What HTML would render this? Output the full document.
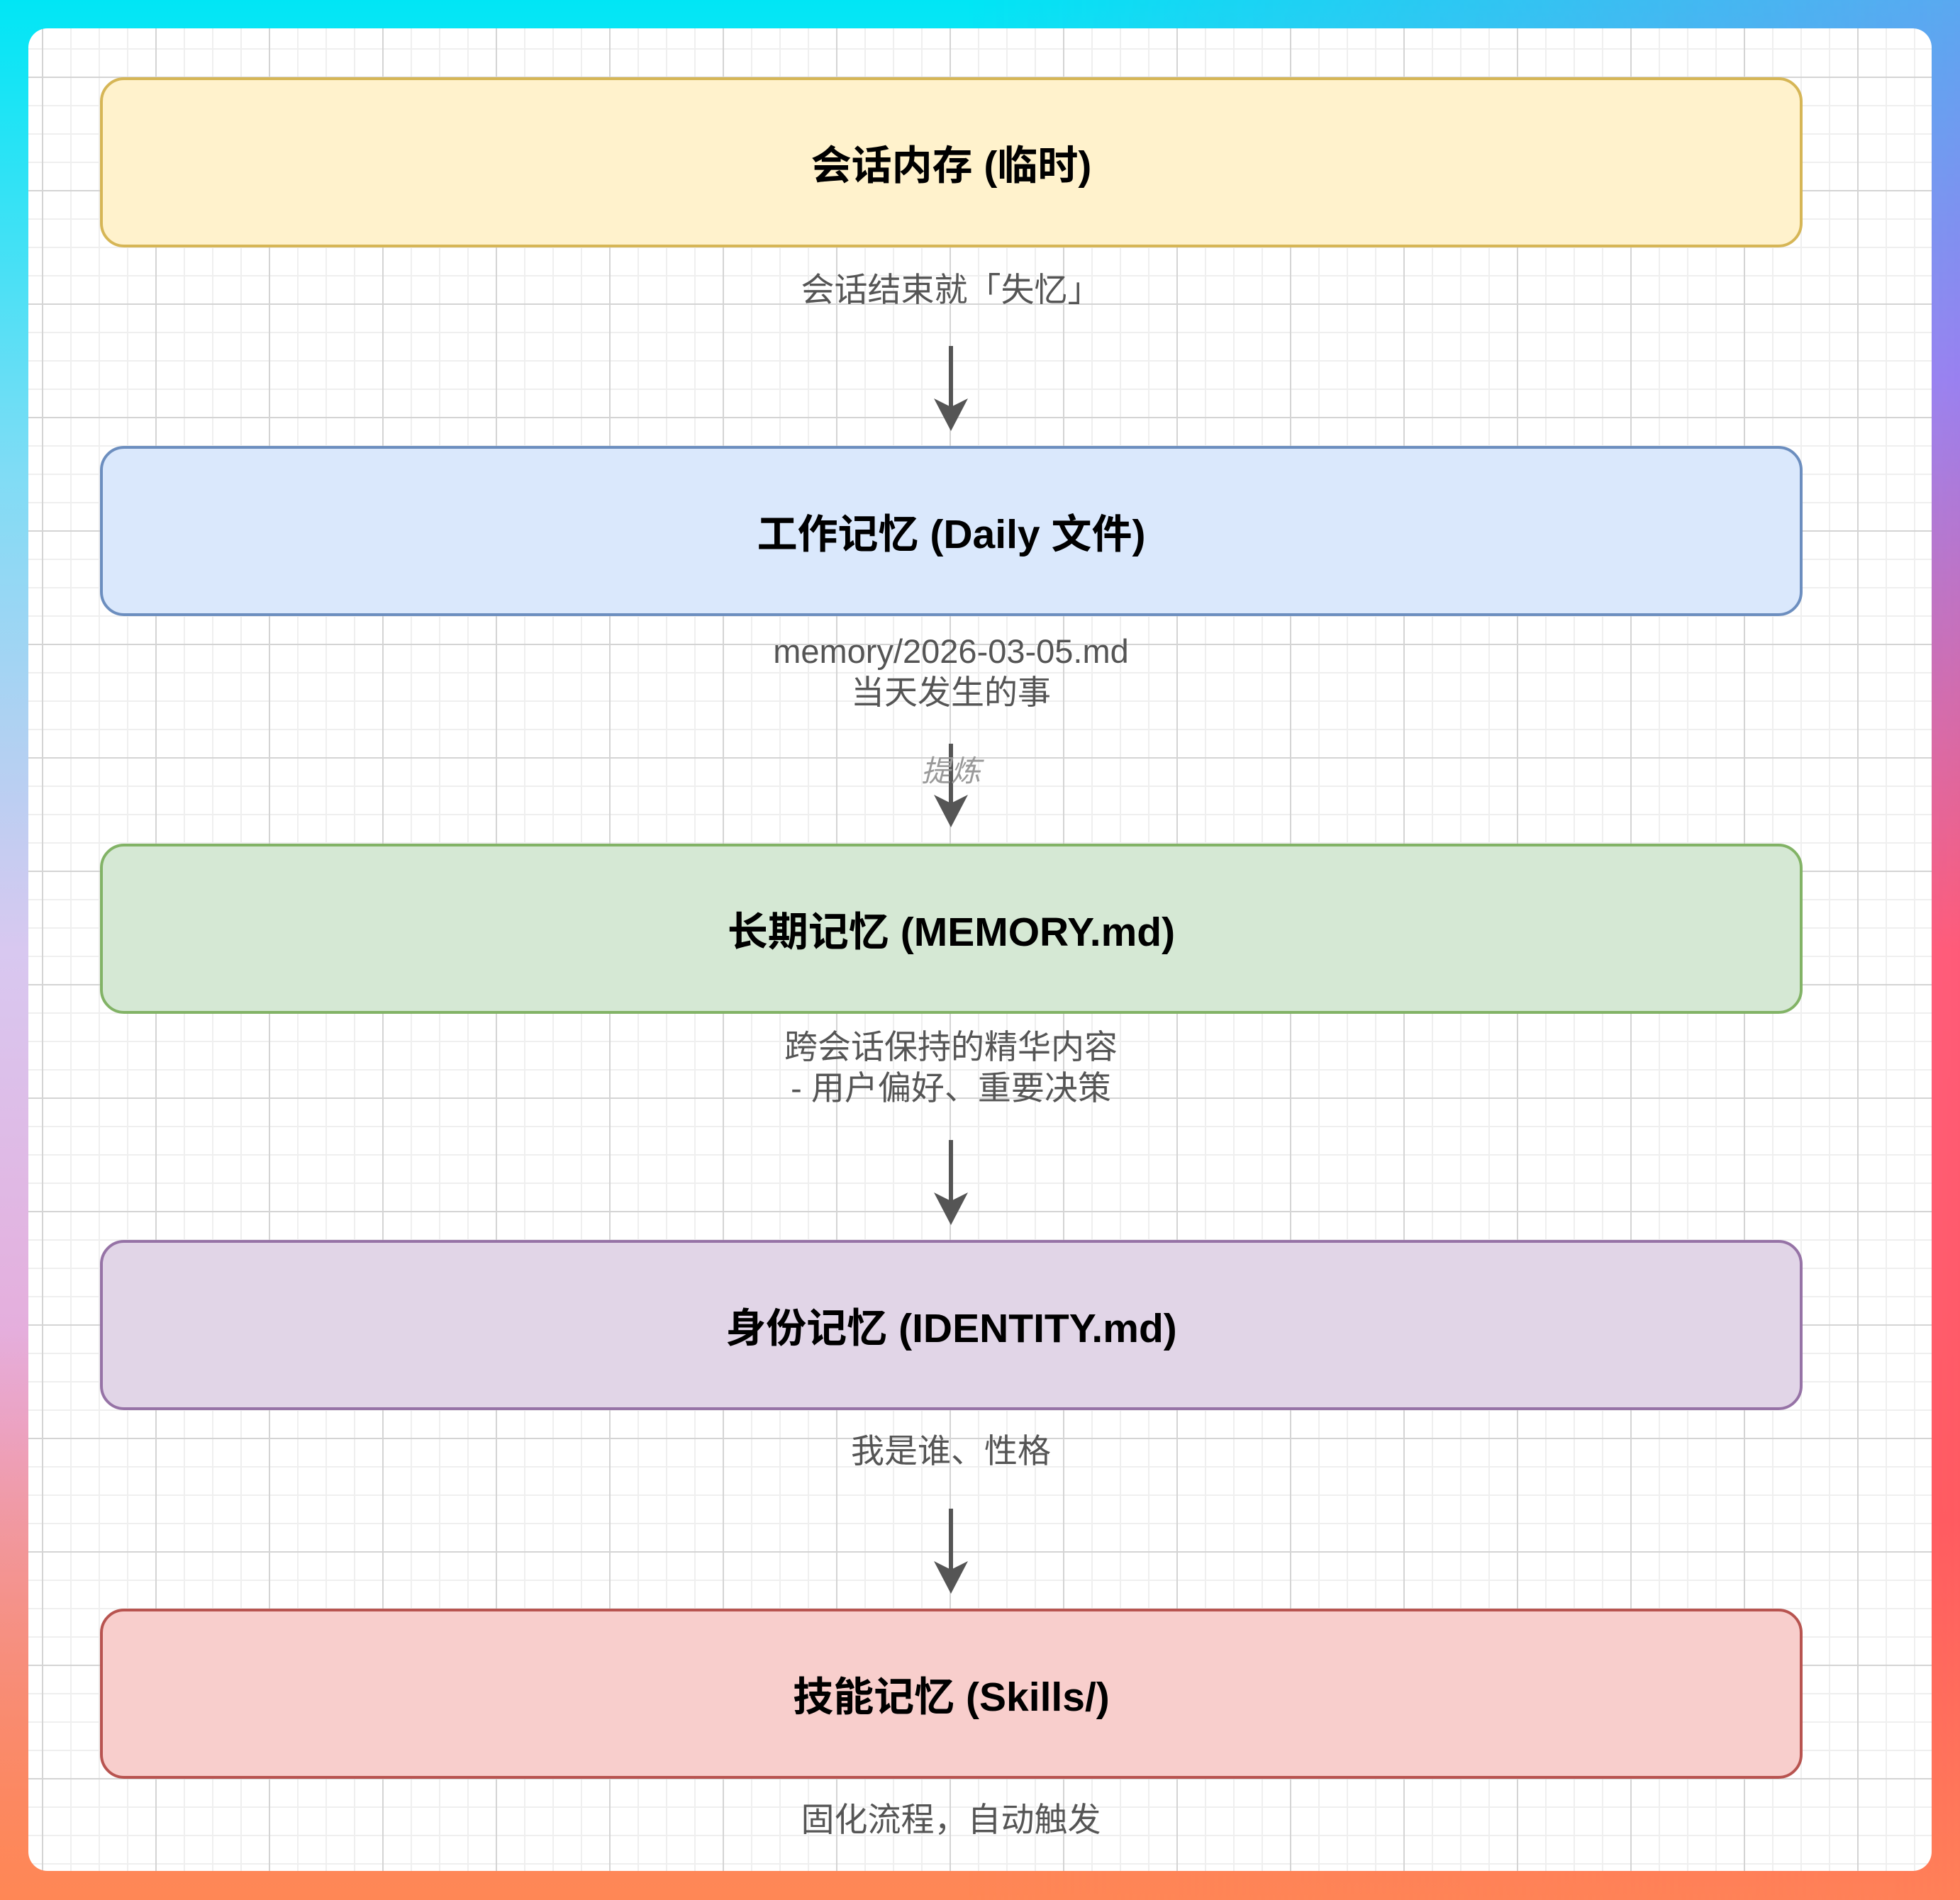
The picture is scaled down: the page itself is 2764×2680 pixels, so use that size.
<!DOCTYPE html>
<html><head><meta charset="utf-8"><style>
html,body{margin:0;padding:0}
body{width:2764px;height:2680px;position:relative;overflow:hidden;
background:
linear-gradient(to bottom, rgba(255,140,80,0) 70%, rgba(255,135,85,1) 100%),
linear-gradient(to right, rgba(0,0,0,0) 50%, rgba(0,0,0,0) 100%),
linear-gradient(to bottom, #00e6f5 0%, #80dcf5 25%, #d8c8f0 50%, #e8a8d8 75%, #f08888 100%);
font-family:"Liberation Sans","Noto Sans CJK SC",sans-serif;}
.rg{position:absolute;right:0;top:0;width:1400px;height:2680px;
background:linear-gradient(to bottom,#5aa8f0 0%,#9a80f0 20%,#ff5a78 50%,#ff5a60 80%,#ff8058 100%);
-webkit-mask-image:linear-gradient(to right,transparent,#000);mask-image:linear-gradient(to right,transparent,#000)}
.panel{position:absolute;left:40px;top:40px;width:2684px;height:2599px;border-radius:27px;overflow:hidden;
background-color:#fff;
background-image:
linear-gradient(to right,#d4d4d4 2px,transparent 2px),
linear-gradient(to bottom,#d4d4d4 2px,transparent 2px),
linear-gradient(to right,#efefef 2px,transparent 2px),
linear-gradient(to bottom,#efefef 2px,transparent 2px);
background-size:160px 160px,160px 160px,40px 40px,40px 40px;
background-position:19px 68px,19px 68px,19px 68px,19px 68px;}
.box{position:absolute;left:141px;width:2401px;height:240px;box-sizing:border-box;border:4px solid;border-radius:34px;
display:flex;align-items:center;justify-content:center;font-weight:bold;font-size:57px;color:#000}
.lbl{position:absolute;left:0;width:2682px;text-align:center;color:#555;font-size:47px;line-height:58px}
svg{position:absolute;left:0;top:0}
</style></head><body>
<div class="rg"></div>
<div class="panel"></div>
<div class="box" style="top:109px;background:#fff2cc;border-color:#d6b656">会话内存 (临时)</div>
<div class="box" style="top:629px;background:#dae8fc;border-color:#6c8ebf">工作记忆 (Daily 文件)</div>
<div class="box" style="top:1190px;background:#d5e8d4;border-color:#82b366">长期记忆 (MEMORY.md)</div>
<div class="box" style="top:1749px;background:#e1d5e7;border-color:#9673a6">身份记忆 (IDENTITY.md)</div>
<div class="box" style="top:2269px;background:#f8cecc;border-color:#b85450">技能记忆 (Skills/)</div>
<div class="lbl" style="top:380px">会话结束就「失忆」</div>
<div class="lbl" style="top:890px">memory/2026-03-05.md<br>当天发生的事</div>
<div class="lbl" style="top:1448px">跨会话保持的精华内容<br>- 用户偏好、重要决策</div>
<div class="lbl" style="top:2018px">我是谁、性格</div>
<div class="lbl" style="top:2538px">固化流程，自动触发</div>
<svg width="2764" height="2680">
<g stroke="#555" stroke-width="6" fill="#555">
<line x1="1341" y1="488" x2="1341" y2="580"/>
<line x1="1341" y1="1049" x2="1341" y2="1140"/>
<line x1="1341" y1="1608" x2="1341" y2="1700"/>
<line x1="1341" y1="2128" x2="1341" y2="2220"/>
</g>
<g fill="#555">
<path d="M1341 608 L1317 562 L1341 574 L1365 562 Z"/>
<path d="M1341 1167 L1317 1121 L1341 1133 L1365 1121 Z"/>
<path d="M1341 1728 L1317 1682 L1341 1694 L1365 1682 Z"/>
<path d="M1341 2248 L1317 2202 L1341 2214 L1365 2202 Z"/>
</g>
<text x="1341" y="1102" text-anchor="middle" font-size="42" font-style="italic" fill="#999" font-family="Liberation Sans, Noto Sans CJK SC, sans-serif">提炼</text>
</svg>
</body></html>
